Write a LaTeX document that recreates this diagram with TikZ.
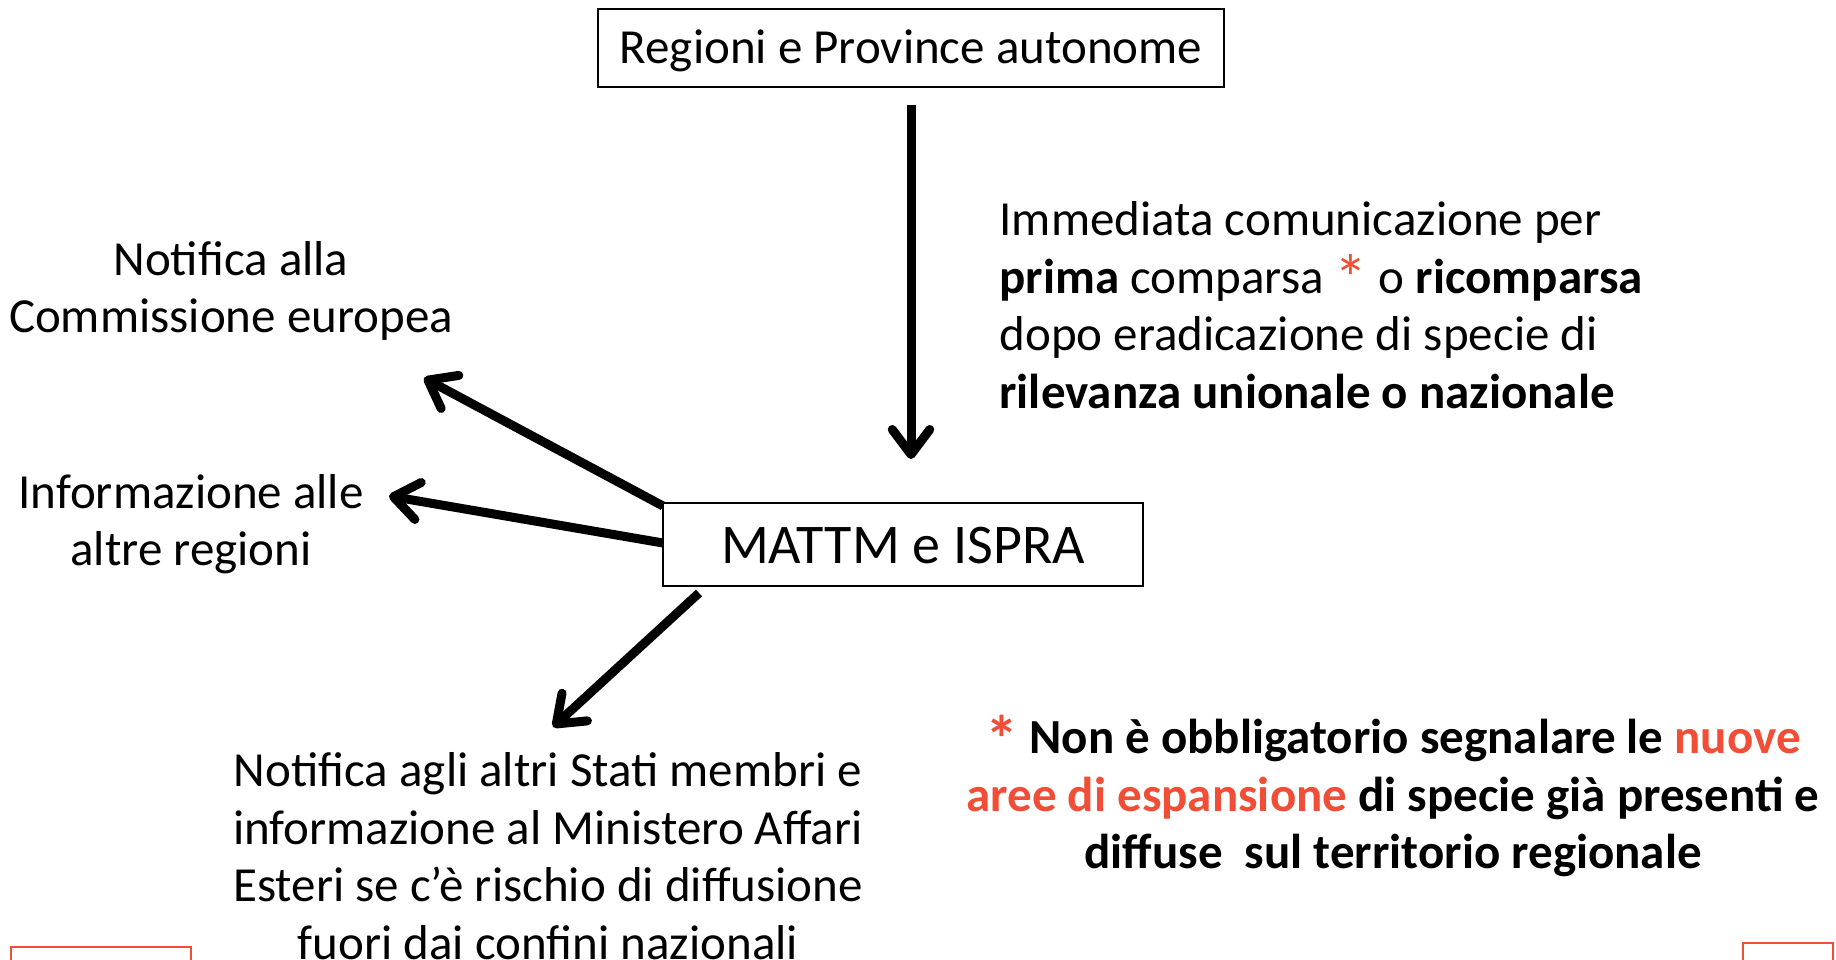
\documentclass[tikz,border=0pt]{standalone}
\usepackage{fontspec}
\setmainfont{Carlito}
\usetikzlibrary{arrows.meta}
\definecolor{accent}{HTML}{F04E37}
\newcommand\redstar{{\color{accent}\raisebox{-0.35ex}{\scalebox{1.35}{*}}}}
\tikzset{
  box/.style={draw=black, line width=0.7pt, inner sep=0pt},
  txt/.style={align=center, inner sep=0pt, font=\fontsize{19.6}{23}\selectfont},
  arr/.style={line width=3.6pt, -{Straight Barb[length=10pt,width=15pt,line cap=round,line join=round]}},
  frame/.style={draw=accent, line width=1pt}
}
\begin{document}
\begin{tikzpicture}[x=0.4pt,y=-0.4pt]
\useasboundingbox (0,0) rectangle (1836,960);
% boxes
\node[box, minimum width=626*0.4pt, minimum height=78*0.4pt] (r) at (911,48) {};
\node[txt] (rt) at ([yshift=-1pt]r.center) {Regioni e Province autonome};
\node[box, minimum width=480*0.4pt, minimum height=83*0.4pt] (m) at (903,544.5) {};
\node[txt, font=\fontsize{22.4}{26}\selectfont] (mt) at ([yshift=-0.5pt]m.center) {MATTM e ISPRA};
% texts
\node[txt] (n1) at (231,291) {Notifica alla\\Commissione europea};
\node[txt] (n2) at (191,524) {Informazione alle\\altre regioni};
\node[txt] (n3) at (548,856) {Notifica agli altri Stati membri e\\informazione al Ministero Affari\\Esteri se c’è rischio di diffusione\\fuori dai confini nazionali};
\node[txt, align=left, anchor=west] (p) at (999,305) {Immediata comunicazione per\\\textbf{prima} comparsa \redstar{} o \textbf{ricomparsa}\\dopo eradicazione di specie di\\\textbf{rilevanza unionale o nazionale}};
\node[txt, font=\fontsize{19.6}{23}\selectfont\bfseries] (note) at (1393,796) {\redstar{} Non è obbligatorio segnalare le {\color{accent}nuove}\\{\color{accent}aree di espansione} di specie già presenti e\\diffuse\ \ sul territorio regionale};
% connectors
\coordinate (v1) at (911,105);
\coordinate (v2) at (911,459);
\draw[arr] (v1) -- (v2);
\coordinate (s1) at (663,506);
\coordinate (e1) at (424,378);
\draw[arr] (s1) -- (e1);
\coordinate (s2) at (663,543);
\coordinate (e2) at (389,496);
\draw[arr] (s2) -- (e2);
\coordinate (s3) at (699,593);
\coordinate (e3) at (553,727);
\draw[arr] (s3) -- (e3);
% corner frames
\draw[frame] (11,975) -- (11,947) -- (191,947) -- (191,975);
\draw[frame] (1743,975) -- (1743,943) -- (1833,943) -- (1833,975);
\end{tikzpicture}
\end{document}
